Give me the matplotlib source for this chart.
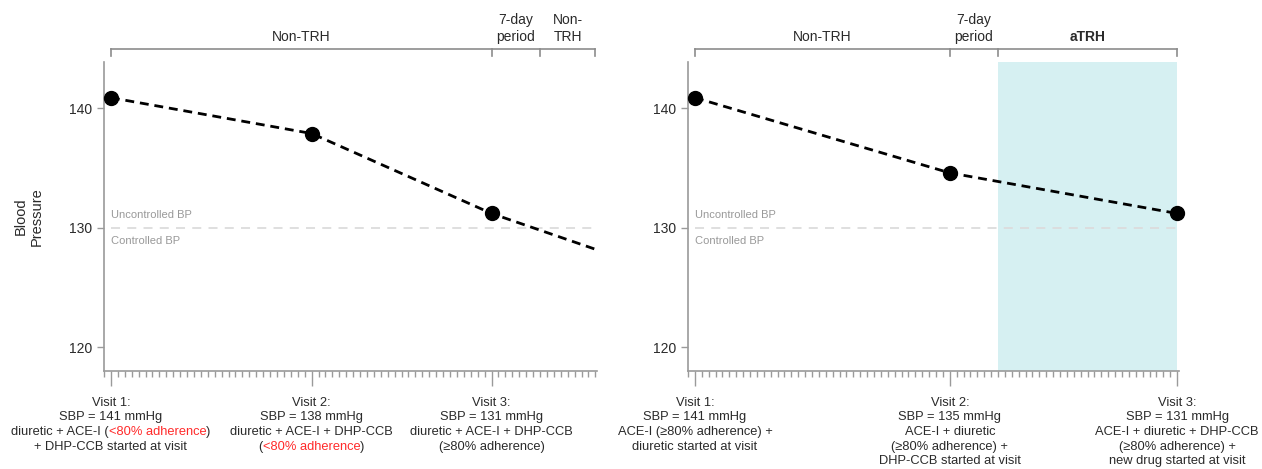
import matplotlib.pyplot as plt
from matplotlib.offsetbox import TextArea, HPacker, VPacker, AnnotationBbox
from matplotlib.ticker import FixedLocator, MultipleLocator

plt.rcParams['font.family'] = ['Liberation Sans', 'DejaVu Sans']

RED = '#ff2a2a'
TXT = '#2a2a2a'
GREY = '#8c8c8c'

# ---- data (x = days since visit 1, y = SBP) ----
left_days = [0, 29, 55, 70]
left_sbp = [140.9, 137.9, 131.2, 128.2]
left_visit_days = [0, 29, 55]
left_visit_sbp = [140.9, 137.9, 131.2]
left_period_edges = [0, 55, 62, 70]
left_period_names = ["Non-TRH", "7-day\nperiod", "Non-\nTRH"]

right_days = [0, 37, 70]
right_sbp = [140.9, 134.6, 131.2]
right_visit_days = [0, 37, 70]
right_visit_sbp = [140.9, 134.6, 131.2]
right_period_edges = [0, 37, 44, 70]
right_period_names = ["Non-TRH", "7-day\nperiod", "aTRH"]
right_shade = (44, 70)

threshold = 130

# visit captions: each line is a list of (text, colour) pieces
left_captions = [
    [[("Visit 1:", TXT)], [("SBP = 141 mmHg", TXT)],
     [("diuretic + ACE-I (", TXT), ("<80% adherence", RED), (")", TXT)],
     [("+ DHP-CCB started at visit", TXT)]],
    [[("Visit 2:", TXT)], [("SBP = 138 mmHg", TXT)],
     [("diuretic + ACE-I + DHP-CCB", TXT)],
     [("(", TXT), ("<80% adherence", RED), (")", TXT)]],
    [[("Visit 3:", TXT)], [("SBP = 131 mmHg", TXT)],
     [("diuretic + ACE-I + DHP-CCB", TXT)],
     [("(\u226580% adherence)", TXT)]],
]
right_captions = [
    [[("Visit 1:", TXT)], [("SBP = 141 mmHg", TXT)],
     [("ACE-I (\u226580% adherence) +", TXT)],
     [("diuretic started at visit", TXT)]],
    [[("Visit 2:", TXT)], [("SBP = 135 mmHg", TXT)],
     [("ACE-I + diuretic", TXT)],
     [("(\u226580% adherence) +", TXT)],
     [("DHP-CCB started at visit", TXT)]],
    [[("Visit 3:", TXT)], [("SBP = 131 mmHg", TXT)],
     [("ACE-I + diuretic + DHP-CCB", TXT)],
     [("(\u226580% adherence) +", TXT)],
     [("new drug started at visit", TXT)]],
]


def caption_box(lines, fs=9.3):
    rows = []
    for line in lines:
        parts = [TextArea(t, textprops=dict(color=c, fontsize=fs)) for t, c in line]
        rows.append(HPacker(children=parts, align="baseline", pad=0, sep=0))
    return VPacker(children=rows, align="center", pad=0, sep=1.9)


def draw_panel(ax, days, sbp, vdays, vsbp, edges, names, captions, shade=None):
    ax.set_xlim(-1, 70.3)
    ax.set_ylim(118, 143.9)
    tr = ax.get_xaxis_transform()

    if shade is not None:
        ax.axvspan(shade[0], shade[1], color='#d6f0f2', lw=0, zorder=0)

    ax.plot([days[0], days[-1]], [threshold, threshold], color='#dcdcdc',
            lw=1.3, dashes=(5, 4), zorder=1)
    ax.text(0, threshold + 1.1, "Uncontrolled BP", color='#999999', fontsize=8,
            ha='left', va='center')
    ax.text(0, threshold - 1.1, "Controlled BP", color='#999999', fontsize=8,
            ha='left', va='center')

    ax.plot(days, sbp, color='black', lw=2, dashes=(3.2, 2.1), zorder=3)
    ax.plot(vdays, vsbp, 'o', color='black', ms=10, zorder=4, clip_on=False)

    # period brackets above the axes
    yb, yt = 1.042, 1.02
    ax.plot([edges[0], edges[-1]], [yb, yb], color=GREY, lw=1.2,
            transform=tr, clip_on=False)
    for e in edges:
        ax.plot([e, e], [yb, yt], color=GREY, lw=1.2, transform=tr, clip_on=False)
    for i, name in enumerate(names):
        mid = (edges[i] + edges[i + 1]) / 2
        ax.text(mid, 1.068, name, transform=tr, ha='center', va='baseline',
                fontsize=10, color=TXT, linespacing=1.25,
                fontweight='bold' if name == 'aTRH' else 'normal')

    # axes styling
    for s in ['top', 'right']:
        ax.spines[s].set_visible(False)
    for s in ['left', 'bottom']:
        ax.spines[s].set_color('#9a9a9a')
        ax.spines[s].set_linewidth(1.2)
    ax.set_yticks([120, 130, 140])
    ax.tick_params(axis='y', length=5, width=1, color='#9a9a9a',
                   labelsize=10, labelcolor=TXT)
    ax.xaxis.set_major_locator(FixedLocator(vdays))
    ax.xaxis.set_minor_locator(MultipleLocator(1))
    ax.tick_params(axis='x', which='major', length=11, width=1, color='#9a9a9a',
                   labelbottom=False)
    ax.tick_params(axis='x', which='minor', length=4.5, width=1, color='#9a9a9a')

    for d, cap in zip(vdays, captions):
        ab = AnnotationBbox(caption_box(cap), (d, 0), xycoords=tr,
                            xybox=(0, -18.5), boxcoords='offset points',
                            box_alignment=(0.5, 1), frameon=False, pad=0,
                            annotation_clip=False)
        ax.add_artist(ab)


fig = plt.figure(figsize=(12.62, 4.69), dpi=100)
ax1 = fig.add_axes([0.0824, 0.209, 0.391, 0.659])
ax2 = fig.add_axes([0.5452, 0.209, 0.3892, 0.659])

draw_panel(ax1, left_days, left_sbp, left_visit_days, left_visit_sbp,
           left_period_edges, left_period_names, left_captions)
draw_panel(ax2, right_days, right_sbp, right_visit_days, right_visit_sbp,
           right_period_edges, right_period_names, right_captions,
           shade=right_shade)

ax1.set_ylabel("Blood\nPressure", fontsize=10.5, color=TXT)
ax1.yaxis.set_label_coords(-0.122, 0.5)

fig.savefig("out.png", dpi=100)
